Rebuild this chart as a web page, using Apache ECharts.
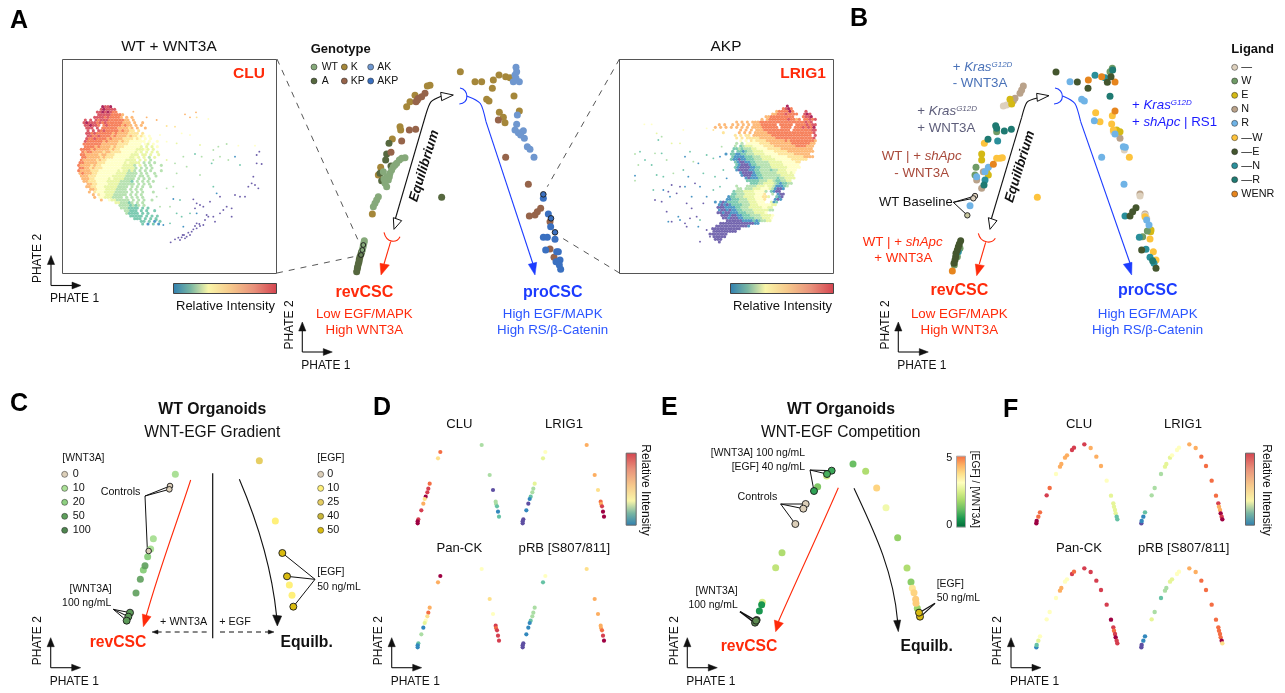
<!DOCTYPE html>
<html><head><meta charset="utf-8">
<style>html,body{margin:0;padding:0;background:#fff}#c{width:1285px;height:693px}</style>
<script src="https://cdn.jsdelivr.net/npm/echarts@6/dist/echarts.min.js"></script>
</head><body><div id="c"></div>
<script>
// ---------- DATA (PHATE read-offs, in units of the panel's own axes; third value = relative intensity 0-10) ----------
const cluDense = [
"..........a99a....................",
".........9a9999...................",
"........99a9a988..................",
"........9999988887................",
".......99998988887.7.7............",
"...9.9.9899988888877.7............",
"...9a9998989888888777.7..7........",
"...99a998.89888887877.7.7.........",
"....999.9.888888777767.7..7.......",
"....9.9.98988888787766.6..........",
"....99898888887877776666.6........",
"....9988988887877776766565.5......",
"....988988887877776666565.5.5.....",
"...98888887877776766555555.5..5...",
"...8888888777777666655555.54.5....",
"...8888787777676665555554.4.4.5...",
"..88887877777676655555544454.4....",
"..87887777677666655555454.4.4.4...",
"..8877777677666555555444.44.4..4..",
"..8877777676665555554454.4.3.4....",
"..877777676655555554444.4.4.3.....",
".88777776665555555454444.3.3.3....",
".8777767665555555544443.4.3.3...3.",
".8877676665555555444443.3.3.3.....",
".8777766655555554544343.3.3.3...3.",
".7877766555555544443333.3.3..3....",
"..777666555555444443333.33.3..3...",
"..77766555554544443333.3.3.3......",
"...7766655554444433332.3.3.3.3....",
"....776655554444333333.3.3.3......",
"....7766555444443333.3.3.3..3.....",
".....77655544443333.3.3.3.........",
".....7.6555444433333.3.3.3...3....",
"......7.65544433333.3.3.3.........",
".......7.554443333.3.3.3.3........",
".........7..54433333.3.3.3..3.....",
"...............4433323.3.3........",
"................33332323.3........",
".................3332222.2.2......",
"..................33222.2.2..2....",
"...................32222.2.2......",
"....................22222.2.2.2...",
"......................222.2.2.2...",
"........................22.2.1.2..",
".........................2.1.2.1.."];
const cluSparse = [[400,335,7],[440,352,7],[470,360,7],[555,343,7],[588,337,7],[570,352,7],[590,352,6],[625,357,5],[500,378,6],[525,380,6],[545,400,5],[480,405,5],[500,425,5],[530,430,4],[570,405,5],[600,435,4],[640,450,3],[655,440,3],[680,432,3],[715,437,5],[765,437,5],[605,470,3],[585,462,2],[635,490,2],[640,480,3],[550,470,3],[525,490,3],[500,480,4],[530,520,3],[560,500,3],[600,525,3],[660,470,3],[685,480,3],[705,470,1],[720,495,2],[770,465,0],[778,455,0],[770,490,0],[785,492,0],[760,530,0],[765,555,0],[775,565,0],[755,550,0],[745,560,0],[720,590,0],[705,585,0],[735,590,0],[695,625,0],[680,620,0],[650,580,1],[660,590,0],[640,560,2],[580,598,0],[590,610,0],[600,615,0],[585,625,0],[610,620,0],[630,605,0],[620,645,0],[640,650,0],[660,640,0],[670,630,0],[645,665,0],[695,650,0],[590,640,1],[570,640,2],[545,650,2],[540,600,2],[520,597,1],[500,565,3],[520,560,3],[470,590,3],[480,620,3],[510,620,3],[530,640,2],[550,680,1],[510,670,2],[470,660,2],[490,675,1],[512,727,0],[525,718,0],[535,713,0],[545,712,0],[552,705,0],[560,710,0],[565,698,0],[575,695,0],[580,688,0],[590,685,0],[600,678,0],[610,675,0],[570,705,0],[555,715,0],[590,670,0],[615,660,0],[625,650,0],[548,705,0],[585,678,0],[598,672,0],[540,720,0]];
const lrigDense = [
".............................a",
"...........................89a8",
".........................78888a8....9",
".......................7788898888..9a9",
".....................77888888888...899a",
"...................7.7888888898878.88989",
"..........7.7.7.77788888888888888888989.",
"...7.7..7.7.7.7.777888888.88888.88889899",
"..7.7.7.7.7.7.7.7777888888.8888.8889898a",
"...........7.7.7.7778888888888.888888899",
".....6.....7.7.7.77777888888888888888889",
".........6.6.66.7777777888888888888888.9",
"..........6.6.66666777777888888888888889",
"...........5.5.6566667777777878888888887",
"..........3.3.55555666677777777888888877",
".........3.2344455556666777777778888777.",
".........223233344555566666777777777777.",
"........2.22123344445555666667777777777.",
"......1.221122333444455555666666777777..",
"........2111122233344445555556666667777.",
"........21101122233344444555555666666..",
".........2100112233333444445555566",
"..........210001223333344444555555",
".........2100001122333344444455555",
"..........10000112233332334445555",
"...........100001223333334444545",
"............10001122333333344444",
".............1011122333332334444",
"..............22222333443223344",
"...............2223344443212233",
"..........3...3333444544311123",
"..........33.333444555431001",
".........2333444455553.2100",
"........2233344445556..3.100",
".......1223334444555664..210",
"......112223334445556...101",
"..1.10122223333444555..412",
"...1010122223334445555544",
"...000111122333444445544",
"...100101122333344444433",
"...0010011122233344445",
"....00010011222333344445",
".....0010001122223334445",
"......00000011112123344",
"....000000000000011",
"..0000000000001",
".00000000000",
".000000000",
"0000000",
".00000",
"..000",
"...0"];
const lrigSparse = [[133,283,5],[155,283,5],[170,310,4],[185,320,3],[175,330,2],[215,340,4],[240,340,4],[250,300,5],[320,295,5],[340,300,6],[120,365,2],[105,372,3],[135,390,2],[165,370,3],[185,370,2],[105,437,1],[105,452,3],[115,405,3],[155,405,2],[170,435,2],[190,440,2],[220,430,3],[250,420,2],[255,380,1],[270,365,2],[280,395,3],[295,400,1],[320,375,2],[340,385,2],[360,380,1],[365,350,3],[200,390,3],[240,470,0],[215,465,0],[205,485,0],[190,480,1],[160,480,2],[165,510,0],[185,515,0],[210,500,1],[230,490,0],[255,470,1],[285,460,0],[300,470,1],[275,500,1],[260,520,0],[275,535,0],[290,560,0],[270,565,0],[255,580,0],[240,570,1],[205,575,1],[215,575,0],[200,545,0],[235,560,1],[260,590,0],[295,590,1],[300,570,2],[300,635,0],[330,620,0],[320,600,0],[340,480,2],[320,500,1],[310,520,0],[345,440,2],[370,420,2],[380,445,1],[360,470,2],[310,430,2],[265,440,1]];

// Panel A trajectory by genotype
const gtK = [[442,168],[450,166],[405,196],[390,215],[380,230],[360,290],[362,300],[337,327],[302,412],[295,435],[277,552],[541,125],[585,155],[605,155],[640,150],[657,135],[677,140],[690,143],[637,175],[620,208],[627,213],[702,198],[658,247],[670,262],[675,278],[718,243]];
const gtKP = [[435,190],[425,200],[415,205],[408,215],[412,210],[388,300],[407,298],[365,333],[333,367],[655,270],[677,382],[745,463],[748,558],[765,555],[772,545],[782,535],[810,575],[810,657],[822,682]];
const gtA = [[327,340],[320,372],[317,390],[333,408],[300,430],[305,452],[485,502],[245,665],[243,672],[240,680],[238,688],[237,695],[235,702],[233,710],[232,716],[230,725]];
const gtWT = [[375,383],[365,385],[358,390],[350,400],[345,405],[340,410],[335,420],[330,430],[328,440],[320,440],[325,450],[315,460],[320,470],[310,425],[312,447],[295,500],[290,510],[285,520],[280,530],[253,632],[252,638],[250,645],[249,652],[247,660]];
const gtWTmark = [[250,645],[247,660],[243,675]];
const gtAK = [[708,112],[710,125],[705,135],[708,145],[700,155],[718,155],[712,255],[710,283],[705,300],[715,308],[730,302],[722,315],[733,325],[742,350],[750,358],[762,382]];
const gtAKP = [[790,505],[805,552],[812,590],[790,622],[802,622],[825,628],[797,660],[835,665],[840,690],[828,695],[838,705],[842,718],[830,665]];
const gtAKPmark = [[790,493],[813,565],[825,607]];

// Panel B trajectory by ligand
const liNone = [[460,228],[470,225],[870,498],[885,555],[890,565],[823,360],[790,305]];
const liNoneMark = [[375,498],[370,505]];
const liW = [[787,115],[780,125],[440,305],[378,412],[375,435],[878,620],[892,603],[330,655],[322,680],[313,705]];
const liWMark = [[352,556]];
const liN = [[520,168],[515,180],[510,190],[495,205],[490,212],[380,450],[395,475],[400,425],[810,325],[870,492],[885,552]];
const liE = [[480,208],[485,222],[395,372],[395,390],[415,435],[410,425],[800,300],[810,305],[902,605],[903,600]];
const liR = [[660,155],[695,208],[703,213],[733,272],[795,312],[820,350],[826,352],[755,382],[822,463],[360,527],[415,412],[405,425],[380,440],[897,585],[890,570]];
const liMW = [[403,340],[440,385],[450,385],[457,383],[737,248],[750,275],[787,257],[785,282],[790,300],[838,382],[562,502],[885,560],[900,627],[910,665],[918,690]];
const liME = [[618,126],[682,156],[714,175],[772,157],[783,140],[848,545],[858,533],[840,558],[875,660],[918,715],[332,632],[328,642],[325,650],[322,660],[318,670],[317,680],[315,690],[312,700]];
const liMN = [[735,136],[765,143],[405,450],[443,333],[825,558],[868,622],[888,658],[900,682],[912,700],[325,665]];
const liMR = [[437,287],[440,295],[463,303],[484,298],[414,328],[402,465],[780,199],[788,120],[908,692]];
const liWENR = [[715,150],[755,140],[795,156],[795,243],[430,403],[307,723]];

// Panel C
const cCtrl = [[510,288],[508,298],[446,483]];
const cW10 = [[526,253],[460,446],[452,477]];
const cW20 = [[443,500],[430,540]];
const cW50 = [[435,527],[421,568],[408,609]];
const cW100 = [[390,668],[385,680],[380,692]];
const cE10 = [[826,393],[868,585],[876,616]];
const cE25 = [[778,212]];
const cE50 = [[847,489],[861,559],[880,650]];

// Panel D: shared PHATE positions and marker intensities
const dPos = [[301,186],[294,205],[269,281],[265,296],[262,307],[257,320],[254,327],[250,341],[244,361],[235,388],[233,394],[233,400],[425,165],[449,255],[459,300],[467,335],[468,342],[471,349],[474,365],[477,380]];
const dCLU = [8,6,8,9,9,10,6,7,9,9,10,10,3,3,0,3,3,2,1,2];
const dLRIG1 = [5,4,4,3,3,2,1,0,1,0,0,0,7,7,6,8,7,9,10,10];
const dPanCK = [10,7,7,8,6,5,4,1,3,2,1,1,5,6,5,9,8,9,9,9];
const dPRB = [5,2,3,3,3,2,1,1,1,0,0,0,6,7,7,7,7,8,9,10];

// Panel E: [x, y, [EGF]/[WNT3A]]
const eRatio = [[609,222,1.3],[647,244,2],[680,294,3.9],[708,353,2.9],[743,443,1.7],[771,534,2],[802,655,1.8],[783,576,1.6],[787,595,3.6],[792,608,3.9],[797,628,4],[798,640,4],[396,488,2],[377,533,2.2],[337,637,2.5],[335,644,0.6],[328,663,0.6],[530,258,2.4],[503,290,1.5]];
const eMarked = [[545,242,0.9],[531,252,1],[492,303,0.8]];
const eCtrl = [[467,342],[460,356],[436,402]];
const eW100 = [[320,690],[315,698],[318,692]];
const eE50 = [[810,680],[807,668]];

// Panel F: shared PHATE positions and marker intensities
const fPos = [[154,400],[155,393],[160,380],[165,367],[185,316],[194,294],[213,252],[225,230],[229,222],[240,203],[246,196],[261,180],[267,173],[298,163],[317,174],[334,200],[348,228],[365,272],[378,317],[385,340],[387,350],[390,360],[392,370],[395,380],[397,388]];
const fCLU = [10,10,8,8,9,8,5,7,7,7,7,9,9,9,7,7,7,5,4,4,4,4,4,2,2];
const fLRIG1 = [0,1,1,2,3,3,3,4,4,4,5,5,5,7,7,8,8,8,8,9,7,7,10,9,10];
const fPanCK = [1,2,4,5,5,5,5,7,7,5,5,9,8,9,9,9,9,9,10,9,8,9,10,9,9];
const fPRB = [0,0,1,1,4,3,2,3,3,4,4,5,5,7,7,8,8,8,8,8,8,8,8,10,6];

// ---------- STYLE ----------
const FONT = '"Liberation Sans", Arial, sans-serif';
const SPECTRAL = ['#5e4fa2','#3288bd','#66c2a5','#abdda4','#e6f598','#ffffbf','#fee08b','#fdae61','#f46d43','#d53e4f','#9e0142'];
const RDYLGN = ['#006837','#1a9850','#66bd63','#a6d96a','#d9ef8b','#ffffbf','#fee08b','#fdae61','#f46d43'];
const specColor = v => echarts.color.lerp(v/10, SPECTRAL);
const ratioColor = v => echarts.color.lerp(v/5, RDYLGN);
const RED='#ff2a0a', BLUE='#1c3cff', BLUE2='#2a55ff';

const grids=[], xAxes=[], yAxes=[], series=[], gfx=[];
function panel(left,top,w,h){
  const i=grids.length;
  grids.push({left,top,width:w,height:h,containLabel:false});
  xAxes.push({type:'value',gridIndex:i,show:false,min:0,max:w*3});
  yAxes.push({type:'value',gridIndex:i,show:false,min:0,max:h*3,inverse:true});
  return i;
}
function dots(g,data,color,size,opt){
  opt=opt||{};
  series.push({type:'scatter',xAxisIndex:g,yAxisIndex:g,data,symbolSize:size,silent:true,animation:false,z:opt.z||3,
    itemStyle:{color,opacity:opt.opacity==null?1:opt.opacity,borderColor:opt.outline?'#1a1a1a':'rgba(0,0,0,0)',borderWidth:opt.outline?0.9:0}});
}
const byValue = fn => p => fn(p.value[2]);
function cloud(rows,x0,y0,step){
  const pts=[];
  rows.forEach((r,j)=>{ for(let i=0;i<r.length;i++){ const c=r[i];
    if(c==='.')continue;
    pts.push([x0+i*step+(j%2?step/2:0), y0+j*step, c==='a'?10:+c]); }});
  return pts;
}
const withVal=(pos,vals)=>pos.map((p,i)=>[p[0],p[1],vals[i]]);

// grids (each axis unit is a third of a pixel)
const gA1=panel(0,0,300,320), gA2=panel(280,30,330,350), gA3=panel(600,30,260,300), gB=panel(850,30,435,350), gC=panel(0,390,340,303), gE=panel(650,390,340,303);
dots(gA1,cloud(cluDense,228,320,8),byValue(specColor),3.1,{opacity:.85});
dots(gA1,cluSparse,byValue(specColor),1.9,{opacity:.9});
dots(gA3,cloud(lrigDense,330,228,8),byValue(specColor),3.1,{opacity:.85});
dots(gA3,lrigSparse,byValue(specColor),1.9,{opacity:.9});

const S=7;
dots(gA2,gtK,'#a5873a',S); dots(gA2,gtA,'#56683f',S); dots(gA2,gtKP,'#96644a',S);
dots(gA2,gtWT,'#86a97a',S); dots(gA2,gtAK,'#6f97cf',S); dots(gA2,gtAKP,'#3a70c0',S);
dots(gA2,gtWTmark,'rgba(134,169,122,.5)',4.8,{outline:true,z:4}); dots(gA2,gtAKPmark,'#3a70c0',5.6,{outline:true,z:4});

dots(gB,liN,'#b9a28a',S); dots(gB,liNone,'#ddd0bd',S); dots(gB,liE,'#d4b915',S); dots(gB,liW,'#6f9b66',S);
dots(gB,liMW,'#fdc33d',S); dots(gB,liR,'#6fb3e6',S); dots(gB,liMN,'#2a8f9a',S); dots(gB,liMR,'#1f7a72',S);
dots(gB,liWENR,'#e6851e',S); dots(gB,liME,'#44562e',S);
dots(gB,liNoneMark,'#ddd0bd',5.4,{outline:true,z:4}); dots(gB,liWMark,'#c9c8a0',5.4,{outline:true,z:4});

dots(gC,cW10,'#abe097',S,{}); dots(gC,cW20,'#8ed081',S); dots(gC,cW50,'#5e9f5c',S,{opacity:.9});
dots(gC,cW100,'#5c9a58',S,{outline:true,z:4}); dots(gC,cCtrl,'#dccfb9',5.6,{outline:true,z:4});
dots(gC,cE10,'#fff07a',S); dots(gC,cE25,'#e6ce63',S); dots(gC,cE50,'#d9bb10',S,{outline:true,z:4});

dots(gE,eRatio,byValue(ratioColor),S);
dots(gE,eMarked,byValue(ratioColor),S,{outline:true,z:4});
dots(gE,eCtrl,'#dccfb9',S,{outline:true,z:4});
dots(gE,eW100,'#5c8a50',S,{outline:true,z:4});
dots(gE,eE50,'#d9bb10',S,{outline:true,z:4});

[[0,0,dCLU],[105,0,dLRIG1],[0,124,dPanCK],[105,124,dPRB]].forEach(([dx,dy,v])=>{
  dots(panel(340+dx,390+dy,200,170),withVal(dPos,v),byValue(specColor),4.2);
});
[[0,0,fCLU],[105,0,fLRIG1],[0,124,fPanCK],[105,124,fPRB]].forEach(([dx,dy,v])=>{
  dots(panel(985+dx,390+dy,190,170),withVal(fPos,v),byValue(specColor),4.4);
});

// ---------- ANNOTATION LAYER ----------
const Z=(ox,oy)=>(x,y)=>[ox+x/3,oy+y/3];
const Z2=Z(280,30),Z4=Z(850,30),Z5=Z(0,390),Z6=Z(340,390),Z7=Z(650,390),Z8=Z(985,390);
function txt(P,x,y,text,o){
  o=o||{}; const p=P(x,y);
  const size=o.size||13, w=o.bold?'bold ':'', it=o.italic?'italic ':'';
  const st={text,fill:o.color||'#111',font:it+w+size+'px '+FONT,align:o.align||'left',verticalAlign:'middle'};
  if(o.rich) st.rich=o.rich;
  gfx.push({type:'text',x:p[0],y:p[1],rotation:(o.rot||0)*Math.PI/180,z:20,silent:true,style:st});
}
const ctxt=(P,x,y,t,o)=>txt(P,x,y,t,Object.assign({align:'center'},o));
function ln(P,a,b,c,o){ o=o||{}; const A=P(a[0],a[1]),B=P(b[0],b[1]);
  gfx.push({type:'line',silent:true,z:o.z||1,shape:{x1:A[0],y1:A[1],x2:B[0],y2:B[1]},style:{stroke:c||'#111',lineWidth:o.w||1,lineDash:o.dash||null}});}
function curve(P,a,c1,c2,b,c,o){ o=o||{}; const A=P(...a),C1=P(...c1),C2=P(...c2),B=P(...b);
  gfx.push({type:'bezierCurve',silent:true,z:1,shape:{x1:A[0],y1:A[1],x2:B[0],y2:B[1],cpx1:C1[0],cpy1:C1[1],cpx2:C2[0],cpy2:C2[1]},style:{stroke:c||'#111',fill:'none',lineWidth:o.w||1.1}});}
function tri(P,a,b,c,fill,stroke){
  gfx.push({type:'polygon',silent:true,z:2,shape:{points:[P(...a),P(...b),P(...c)]},style:{fill,stroke:stroke||fill,lineWidth:stroke?1:0.5}});}
function dot(P,x,y,c){ const p=P(x,y);
  gfx.push({type:'circle',silent:true,z:5,shape:{cx:p[0],cy:p[1],r:3},style:{fill:c,stroke:'#222',lineWidth:.5}});}
function axesGlyph(x,y){
  const I=(a,b)=>[a,b];
  gfx.push({type:'line',silent:true,shape:{x1:x,y1:y,x2:x,y2:y-24},style:{stroke:'#111',lineWidth:1.1}});
  gfx.push({type:'line',silent:true,shape:{x1:x,y1:y,x2:x+23,y2:y},style:{stroke:'#111',lineWidth:1.1}});
  tri(I,[x,y-30],[x-3.6,y-21],[x+3.6,y-21],'#111');
  tri(I,[x+30,y],[x+21,y-3.4],[x+21,y+3.4],'#111');
  txt(I,x-1,y+13.5,'PHATE 1',{size:12});
  ctxt(I,x-13,y-27,'PHATE 2',{size:12,rot:90});
}
function rect(x,y,w,h,fill,stroke){
  gfx.push({type:'rect',silent:true,z:1,shape:{x,y,width:w,height:h},style:{fill:fill||'none',stroke:stroke||'#555',lineWidth:1}});
}
const G=echarts.graphic.LinearGradient;
const specStops=[[0,'#2f7fb0'],[.17,'#79b6a2'],[.34,'#f9f5a8'],[.55,'#f6c98c'],[.78,'#e8907a'],[1,'#d4434f']];
const hGrad=()=>new G(0,0,1,0,specStops.map(s=>({offset:s[0],color:s[1]})));
const vGrad=()=>new G(0,1,0,0,specStops.map(s=>({offset:s[0],color:s[1]})));
const I=(a,b)=>[a,b];

// panel letters
[['A',10,21],['B',850,19],['C',10,404],['D',373,408],['E',661,408],['F',1003,410]].forEach(l=>txt(I,l[1],l[2],l[0],{size:25,bold:true,color:'#000'}));

// Panel A
rect(62.5,59.5,214,214); rect(619.5,59.5,214,214);
ctxt(I,169,47,'WT + WNT3A',{size:15.4}); ctxt(I,726,47,'AKP',{size:15.4});
ctxt(I,249,74,'CLU',{size:15.5,bold:true,color:RED}); ctxt(I,803,74,'LRIG1',{size:15.5,bold:true,color:RED});
rect(173.5,283.5,103,10,hGrad(),'#444'); rect(730.5,283.5,103,10,hGrad(),'#444');
ctxt(I,225.5,306,'Relative Intensity',{size:13}); ctxt(I,782.5,306,'Relative Intensity',{size:13});
axesGlyph(51,285.5); axesGlyph(302.3,352); axesGlyph(898.3,352); axesGlyph(50.7,667.7); axesGlyph(391.7,667.7); axesGlyph(687.3,667.7); axesGlyph(1011,667.7);
const D={dash:[6,6],w:.9}, dg='#444';
ln(I,[277,59],[357.7,239.3],dg,D); ln(I,[277,273],[357,256],dg,D); ln(I,[619.5,59],[547.3,186.7],dg,D); ln(I,[619.5,273],[560,236.7],dg,D);

txt(Z2,92,57,'Genotype',{size:13,bold:true});
[[102,111,'#86a97a','WT',125],[193,111,'#a5873a','K',212],[272,111,'#6f97cf','AK',292],[102,153,'#56683f','A',125],[193,153,'#96644a','KP',212],[272,153,'#3a70c0','AKP',292]].forEach(a=>{dot(Z2,a[0],a[1],a[2]);txt(Z2,a[4],a[1],a[3],{size:10.5});});

function trajectory(P,o){ // arrows + labels shared by A-centre and B
  ln(P,o.b0,o.b1,'#111',{w:1.1}); curve(P,o.b1,o.b2,o.b2,o.b3,'#111'); tri(P,o.bt1,o.bt2,o.bt3,'#fff','#111'); tri(P,o.bb1,o.bb2,o.bb3,'#fff','#111');
  curve(P,o.ar0,o.ar1,o.ar2,o.ar3,BLUE);
  curve(P,o.l0,o.l1,o.l1,o.l2,BLUE); ln(P,o.l2,o.l3,BLUE,{w:1.1}); tri(P,o.h1,o.h2,o.h3,BLUE);
  curve(P,o.r0,o.r1,o.r2,o.r3,RED); ln(P,o.rl0,o.rl1,RED,{w:1.1}); tri(P,o.rh1,o.rh2,o.rh3,RED);
  txt(P,o.eq[0],o.eq[1],'Equilibrium',{size:13.5,bold:true,italic:true,align:'center',rot:73});
  ctxt(P,o.cr,o.yr,'revCSC',{size:16,bold:true,color:RED});
  ctxt(P,o.cp,o.yr,'proCSC',{size:16,bold:true,color:BLUE});
  ctxt(P,o.cr,853,'Low EGF/MAPK',{size:13.3,color:RED}); ctxt(P,o.cr,902,'High WNT3A',{size:13.3,color:RED});
  ctxt(P,o.cp,853,'High EGF/MAPK',{size:13.3,color:BLUE2}); ctxt(P,o.cp,902,'High RS/β-Catenin',{size:13.3,color:BLUE2});
}
trajectory(Z2,{b0:[345,570],b1:[437,255],b2:[450,212],b3:[485,198],bt1:[520,195],bt2:[482,187],bt3:[485,212],bb1:[342,598],bb2:[340,563],bb3:[365,572],
  ar0:[540,174],ar1:[568,178],ar2:[568,222],ar3:[538,222],l0:[560,198],l1:[605,215],l2:[618,275],l3:[760,705],h1:[765,735],h2:[745,703],h3:[770,697],
  r0:[312,607],r1:[320,640],r2:[350,640],r3:[360,620],rl0:[332,635],rl1:[312,702],rh1:[303,735],rh2:[300,700],rh3:[328,705],eq:[433,408],cr:253,cp:818,yr:788});
trajectory(Z4,{b0:[423,570],b1:[515,262],b2:[528,212],b3:[562,204],bt1:[597,197],bt2:[560,190],bt3:[562,214],bb1:[420,598],bb2:[415,563],bb3:[441,572],
  ar0:[615,174],ar1:[645,178],ar2:[645,222],ar3:[612,222],l0:[638,198],l1:[678,215],l2:[692,275],l3:[842,705],h1:[845,735],h2:[820,703],h3:[846,697],
  r0:[385,610],r1:[392,640],r2:[425,643],r3:[436,625],rl0:[407,637],rl1:[388,702],rh1:[380,737],rh2:[376,702],rh3:[403,707],eq:[510,410],cr:328,cp:893,yr:783});

// Panel B labels
const rich=(c,size)=>({i:{font:'italic '+size+'px '+FONT,fill:c},s:{font:'italic 8px '+FONT,fill:c,verticalAlign:'top',padding:[0,0,3,0]},n:{font:size+'px '+FONT,fill:c}});
const B1='#4a72b8',B2='#5d5d7a',B3='#a8493a',B4='#1a1aff';
txt(Z4,308,113,'{n|+ }{i|Kras}{s|G12D}',{color:B1,rich:rich(B1,13.3)}); txt(Z4,308,160,'- WNT3A',{size:13.3,color:B1});
txt(Z4,202,245,'{n|+ }{i|Kras}{s|G12D}',{color:B2,rich:rich(B2,13.3)}); txt(Z4,202,295,'+ WNT3A',{size:13.3,color:B2});
txt(Z4,95,380,'{n|WT | + }{i|shApc}',{color:B3,rich:rich(B3,13.3)}); txt(Z4,133,430,'- WNT3A',{size:13.3,color:B3});
txt(Z4,87,516,'WT Baseline',{size:13});
ln(Z4,[310,517],[375,498]); ln(Z4,[310,517],[370,505]); ln(Z4,[310,517],[352,556]);
txt(Z4,38,636,'{n|WT | + }{i|shApc}',{color:RED,rich:rich(RED,13.3)}); txt(Z4,73,686,'+ WNT3A',{size:13.3,color:RED});
txt(Z4,846,226,'{n|+ }{i|Kras}{s|G12D}',{color:B4,rich:rich(B4,13.3)}); txt(Z4,846,276,'{n|+ }{i|shApc}{n| | RS1}',{color:B4,rich:rich(B4,13.3)});
txt(Z4,1144,57,'Ligand',{size:13,bold:true});
[['—','#ddd0bd',112],['W','#6f9b66',153],['E','#d4b915',196],['N','#b9a28a',238],['R','#6fb3e6',280],['—W','#fdc33d',323],['—E','#44562e',365],['—N','#2a8f9a',407],['—R','#1f7a72',449],['WENR','#e6851e',492]].forEach(a=>{dot(Z4,1154,a[2],a[1]);txt(Z4,1174,a[2],a[0],{size:10.8});});

// Panel C
ctxt(Z5,637,60,'WT Organoids',{size:15.8,bold:true}); ctxt(Z5,637,128,'WNT-EGF Gradient',{size:15.6});
txt(Z5,187,203,'[WNT3A]',{size:10.4}); txt(Z5,952,203,'[EGF]',{size:10.4});
[['0','#dccfb9',253],['10','#abe097',295],['20','#8ed081',337],['50','#5e9f5c',379],['100','#4f8550',421]].forEach(a=>{dot(Z5,194,a[2],a[1]);txt(Z5,218,a[2],a[0],{size:10.8});});
[['0','#dccfb9',253],['10','#fff07a',295],['25','#e6ce63',337],['40','#c9b63a',379],['50','#d9bb10',421]].forEach(a=>{dot(Z5,962,a[2],a[1]);txt(Z5,982,a[2],a[0],{size:10.8});});
txt(Z5,302,305,'Controls',{size:10.7});
ln(Z5,[435,318],[510,288]); ln(Z5,[435,318],[508,298]); ln(Z5,[435,318],[442,478]);
ctxt(Z5,272,598,'[WNT3A]',{size:10.4}); ctxt(Z5,260,640,'100 ng/mL',{size:10.4});
ln(Z5,[340,658],[390,668]); ln(Z5,[340,658],[385,680]); ln(Z5,[340,658],[380,692]);
ln(Z5,[638,250],[638,745],'#222',{w:1.3});
curve(Z5,[572,270],[530,400],[480,530],[438,680],RED); tri(Z5,[430,710],[427,672],[453,680],RED);
curve(Z5,[718,268],[770,390],[815,530],[830,680],'#111'); tri(Z5,[832,708],[818,675],[845,678],'#111');
ln(Z5,[470,726],[625,726],'#111',{dash:[5,4]}); tri(Z5,[456,726],[474,720],[474,732],'#111');
ln(Z5,[660,726],[808,726],'#111',{dash:[5,4]}); tri(Z5,[822,726],[805,720],[805,732],'#111');
ctxt(Z5,551,695,'+ WNT3A',{size:10.8}); ctxt(Z5,705,695,'+ EGF',{size:10.8});
ctxt(Z5,354,758,'revCSC',{size:15.7,bold:true,color:RED}); ctxt(Z5,920,758,'Equilb.',{size:15.7,bold:true});
txt(Z5,952,547,'[EGF]',{size:10.4}); txt(Z5,952,590,'50 ng/mL',{size:10.4});
ln(Z5,[945,568],[847,489]); ln(Z5,[945,568],[861,559]); ln(Z5,[945,568],[880,650]);

// Panel D titles + bar
[[358,103,'CLU'],[672,103,'LRIG1'],[358,476,'Pan-CK'],[673,476,'pRB [S807/811]']].forEach(a=>ctxt(Z6,a[0],a[1],a[2],{size:13.1}));
let p=Z6(857,188); rect(p[0]+.5,p[1]+.5,10,72,vGrad(),'#666');
ctxt(Z6,917,300,'Relative Intensity',{size:12,rot:-90});

// Panel E
ctxt(Z7,573,60,'WT Organoids',{size:15.8,bold:true}); ctxt(Z7,572,128,'WNT-EGF Competition',{size:15.6});
txt(Z7,465,190,'[WNT3A] 100 ng/mL',{size:10.4,align:'right'}); txt(Z7,465,232,'[EGF] 40 ng/mL',{size:10.4,align:'right'});
txt(Z7,382,322,'Controls',{size:10.7,align:'right'});
txt(Z7,263,604,'[WNT3A]',{size:10.4,align:'right'}); txt(Z7,263,645,'100 ng/mL',{size:10.4,align:'right'});
txt(Z7,860,582,'[EGF]',{size:10.4}); txt(Z7,860,625,'50 ng/mL',{size:10.4});
ln(Z7,[480,240],[545,242]); ln(Z7,[480,240],[531,252]); ln(Z7,[480,240],[492,303]);
ln(Z7,[392,342],[467,342]); ln(Z7,[392,342],[460,356]); ln(Z7,[392,342],[436,402]);
ln(Z7,[270,665],[318,692],'#111',{w:1.4}); ln(Z7,[270,665],[313,698],'#111',{w:1.4});
ln(Z7,[855,640],[808,668],'#111',{w:1.2}); ln(Z7,[855,640],[812,680],'#111',{w:1.2});
curve(Z7,[565,293],[510,420],[440,570],[385,695],RED); tri(Z7,[377,725],[373,690],[400,700],RED);
curve(Z7,[612,295],[670,420],[730,540],[743,695],'#111'); tri(Z7,[745,725],[731,692],[752,690],'#111');
ctxt(Z7,297,770,'revCSC',{size:15.7,bold:true,color:RED}); ctxt(Z7,830,770,'Equilb.',{size:15.7,bold:true});
p=Z7(918,197); rect(p[0]+.5,p[1]+.5,9,71,new G(0,1,0,0,RDYLGN.map((c,i)=>({offset:i/8,color:c}))),'#aaa');
txt(Z7,898,205,'5',{size:10.8,align:'center'}); txt(Z7,898,405,'0',{size:10.8,align:'center'});
ctxt(Z7,975,298,'[EGF] / [WNT3A]',{size:10.3,rot:-90});

// Panel F
[[282,103,'CLU'],[594,103,'LRIG1'],[282,476,'Pan-CK'],[596,476,'pRB [S807/811]']].forEach(a=>ctxt(Z8,a[0],a[1],a[2],{size:13.1}));
p=Z8(780,188); rect(p[0]+.5,p[1]+.5,9,72,vGrad(),'#666');
ctxt(Z8,843,300,'Relative Intensity',{size:12,rot:-90});

const chart=echarts.init(document.getElementById('c'),null,{renderer:'canvas'});
chart.setOption({animation:false,backgroundColor:'#fff',tooltip:{show:false},grid:grids,xAxis:xAxes,yAxis:yAxes,series,graphic:{elements:gfx}});
</script></body></html>
